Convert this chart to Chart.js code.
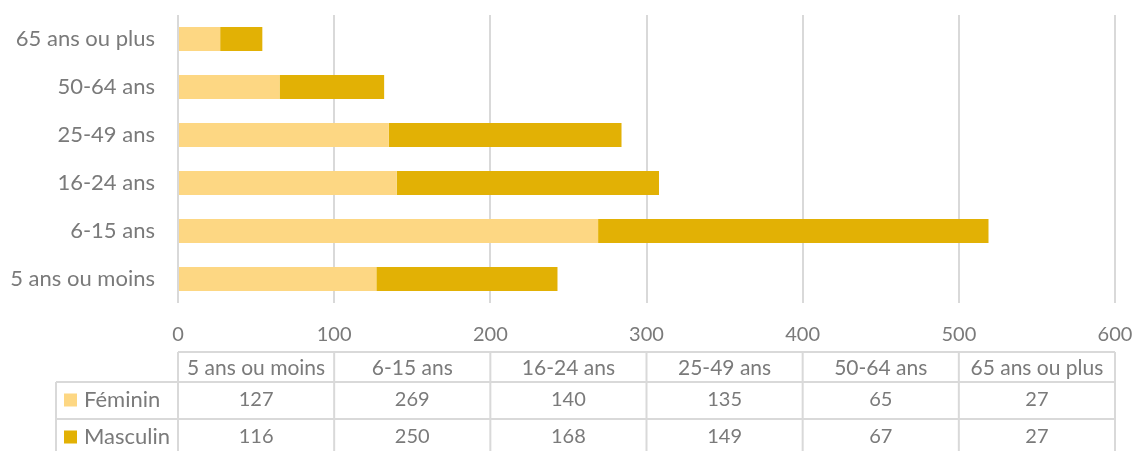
<!DOCTYPE html>
<html>
<head>
<meta charset="utf-8">
<script src="https://cdn.jsdelivr.net/npm/chart.js@4/dist/chart.umd.min.js"></script>
<style>
  body { margin: 0; background: #fff; }
  canvas { display: block; }
</style>
</head>
<body>
<canvas id="canvas" width="1137" height="451"></canvas>
<script>
// données du graphique
var categories = ["5 ans ou moins", "6-15 ans", "16-24 ans", "25-49 ans", "50-64 ans", "65 ans ou plus"];
var feminin = [127, 269, 140, 135, 65, 27];
var masculin = [116, 250, 168, 149, 67, 27];
var graduations = [0, 100, 200, 300, 400, 500, 600];

var couleurFem = "#FDD783";
var couleurMasc = "#E2B105";
var gris = "#7a7a7a";
var police = "Lato, 'Liberation Sans', sans-serif";

// tableau de données sous le graphique
var tableau = {
  id: "tableau",
  afterDraw: function(chart) {
    var ctx = chart.ctx;
    var x = chart.scales.x;
    var gauche = x.getPixelForValue(graduations[0]);
    var droite = x.getPixelForValue(graduations[graduations.length - 1]);
    var larg = (droite - gauche) / categories.length;
    var lignes = [352, 382, 419, 457]; // haut de chaque rangée
    var debutLegende = 56;
    var series = [
      { nom: "Féminin", val: feminin, coul: couleurFem, y: 400 },
      { nom: "Masculin", val: masculin, coul: couleurMasc, y: 437 }
    ];

    ctx.save();
    ctx.strokeStyle = "#d9d9d9";
    ctx.lineWidth = 2;
    ctx.beginPath();
    // lignes horizontales
    ctx.moveTo(gauche, lignes[0]); ctx.lineTo(droite, lignes[0]);
    for (var r = 1; r < lignes.length; r++) {
      ctx.moveTo(debutLegende, lignes[r]); ctx.lineTo(droite, lignes[r]);
    }
    // lignes verticales
    ctx.moveTo(debutLegende, lignes[1]); ctx.lineTo(debutLegende, lignes[3]);
    for (var c = 0; c <= categories.length; c++) {
      var xc = gauche + c * larg;
      ctx.moveTo(xc, lignes[0]); ctx.lineTo(xc, lignes[3]);
    }
    ctx.stroke();

    ctx.fillStyle = gris;
    ctx.textAlign = "center";
    ctx.textBaseline = "middle";
    for (var i = 0; i < categories.length; i++) {
      var cx = gauche + (i + 0.5) * larg;
      ctx.font = "21px " + police;
      ctx.fillText(categories[i], cx, (lignes[0] + lignes[1]) / 2 + 1);
      ctx.font = "20px " + police;
      for (var s = 0; s < series.length; s++) {
        ctx.fillText(String(series[s].val[i]), cx, series[s].y);
      }
    }

    // légende dans le tableau
    ctx.textAlign = "left";
    ctx.font = "22px " + police;
    for (var s = 0; s < series.length; s++) {
      ctx.fillStyle = series[s].coul;
      ctx.fillRect(64, series[s].y - 6.5, 13, 13);
      ctx.fillStyle = gris;
      ctx.fillText(series[s].nom, 84, series[s].y);
    }
    ctx.restore();
  }
};

var monGraphique = new Chart(document.getElementById("canvas"), {
  type: "bar",
  data: {
    labels: categories,
    datasets: [{
      label: "Féminin",
      data: feminin,
      backgroundColor: couleurFem,
      barPercentage: 0.5,
      categoryPercentage: 1
    }, {
      label: "Masculin",
      data: masculin,
      backgroundColor: couleurMasc,
      barPercentage: 0.5,
      categoryPercentage: 1
    }]
  },
  options: {
    indexAxis: "y",
    responsive: false,
    animation: false,
    layout: { padding: { top: 15, right: 22, left: 0, bottom: 0 } },
    plugins: {
      legend: { display: false },
      tooltip: { enabled: false }
    },
    scales: {
      x: {
        stacked: true,
        min: 0,
        max: 600,
        afterBuildTicks: function(axis) {
          axis.ticks = graduations.map(function(v) { return { value: v }; });
        },
        afterFit: function(axis) {
          axis.height = 148;
          axis.paddingLeft = 0;
          axis.paddingRight = 0;
        },
        grid: { color: "#d9d9d9", lineWidth: 2, drawTicks: false },
        border: { display: false },
        ticks: { color: gris, font: { family: police, size: 20 }, padding: 20 }
      },
      y: {
        stacked: true,
        reverse: true,
        afterFit: function(axis) {
          axis.width = 178;
          axis.paddingTop = 0;
          axis.paddingBottom = 0;
        },
        grid: { display: false, drawTicks: false },
        border: { display: false },
        ticks: { color: gris, font: { family: police, size: 22 }, padding: 23 }
      }
    }
  },
  plugins: [tableau]
});
</script>
</body>
</html>
